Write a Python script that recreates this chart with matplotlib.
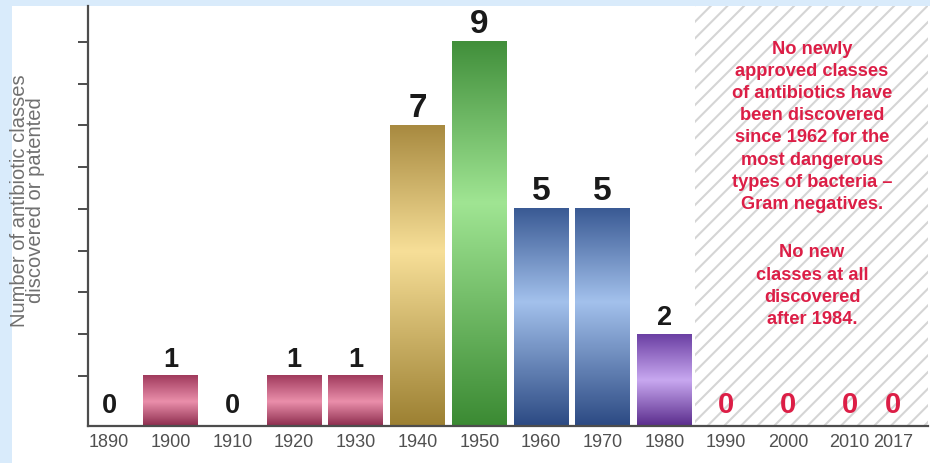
import numpy as np
import matplotlib.pyplot as plt
from matplotlib import font_manager
from matplotlib.colors import LinearSegmentedColormap
from matplotlib.patches import Rectangle

years = [1890, 1900, 1910, 1920, 1930, 1940, 1950, 1960, 1970, 1980, 1990, 2000, 2010, 2017]
classes = [0, 1, 0, 1, 1, 7, 9, 5, 5, 2, 0, 0, 0, 0]
tick_labels = [str(y) for y in years]
bar_styles = ['pink', 'pink', 'pink', 'pink', 'pink', 'gold', 'green',
              'blue', 'blue', 'purple', None, None, None, None]

ylabel = "Number of antibiotic classes\ndiscovered or patented"
note_1 = ("No newly\napproved classes\nof antibiotics have\nbeen discovered\n"
          "since 1962 for the\nmost dangerous\ntypes of bacteria \u2013\nGram negatives.")
note_2 = "No new\nclasses at all\ndiscovered\nafter 1984."
hatch_start = 1985

# bottom -> light band -> top
gradients = {
    'pink':   [(0.0, '#8c2c4d'), (0.48, '#ea8fab'), (1.0, '#a03a5c')],
    'gold':   [(0.0, '#9c8032'), (0.58, '#f7df98'), (1.0, '#a88a40')],
    'green':  [(0.0, '#3b8a33'), (0.58, '#a0e593'), (1.0, '#418f3b')],
    'blue':   [(0.0, '#2c4a83'), (0.57, '#a3c1ec'), (1.0, '#3a5a94')],
    'purple': [(0.0, '#5a2c8c'), (0.5, '#c8a8f0'), (1.0, '#6b3fa3')],
}

installed = {f.name for f in font_manager.fontManager.ttflist}
if 'Liberation Sans Narrow' in installed:
    narrow, nscale = 'Liberation Sans Narrow', 1.0
else:
    narrow, nscale = 'Liberation Sans', 0.82

red = '#dc1e46'
axis_grey = '#4d4d4d'
plt.rcParams['hatch.linewidth'] = 1.5

fig = plt.figure(figsize=(9.3, 4.64), dpi=100, facecolor='#d9ebfb')
fig.patches.append(Rectangle((12 / 930, 0), 1, 457 / 464, transform=fig.transFigure,
                             facecolor='white', edgecolor='none', zorder=-10))
ax = fig.add_axes([88 / 930, 37 / 464, 840 / 930, 420 / 464])

base = -0.2
xmin, xmax = 1886.6, 2022.7

ax.axvspan(hatch_start, xmax, facecolor='none', edgecolor='#d5d5d5', hatch='//',
           lw=0, zorder=0.5)

heights = [v - base if v > 0 else 0 for v in classes]
bars = ax.bar(years, heights, width=8.9, bottom=base, color='none', edgecolor='none', zorder=2)

grad = np.linspace(0, 1, 256).reshape(-1, 1)
for patch, style in zip(bars, bar_styles):
    if style is None or patch.get_height() == 0:
        continue
    cmap = LinearSegmentedColormap.from_list(style, gradients[style])
    x0, w = patch.get_x(), patch.get_width()
    y0, h = patch.get_y(), patch.get_height()
    ax.imshow(grad, extent=[x0, x0 + w, y0, y0 + h], origin='lower', aspect='auto',
              cmap=cmap, interpolation='bicubic', zorder=2, clip_path=patch)

for x, v in zip(years, classes):
    if x >= hatch_start:
        ax.annotate(str(v), (x, v), xytext=(0, 4.3), textcoords='offset points',
                    ha='center', va='baseline', fontsize=21, fontweight='bold',
                    color=red, family=narrow)
    else:
        ax.annotate(str(v), (x, v), xytext=(0, 7 if v else 4.3), textcoords='offset points',
                    ha='center', va='baseline', fontsize=24 if v >= 5 else 19.5,
                    fontweight='bold', color='#1a1a1a', family='Liberation Sans')

ax.text(0.862, 0.92, note_1, transform=ax.transAxes, ha='center', va='top',
        fontsize=16 * nscale, fontweight='bold', color=red, family=narrow, linespacing=1.4)
ax.text(0.862, 0.435, note_2, transform=ax.transAxes, ha='center', va='top',
        fontsize=16 * nscale, fontweight='bold', color=red, family=narrow, linespacing=1.4)

ax.set_xlim(xmin, xmax)
ax.set_ylim(base, 9.86)
ax.set_xticks(years)
ax.set_xticklabels(tick_labels, family=narrow, fontsize=13, color='#505050')
ax.tick_params(axis='x', length=0, pad=5)
ax.set_yticks(range(1, 10))
ax.set_yticklabels([])
ax.tick_params(axis='y', length=7, width=1.4, color=axis_grey)

for side in ['top', 'right']:
    ax.spines[side].set_visible(False)
for side in ['left', 'bottom']:
    ax.spines[side].set_color(axis_grey)
    ax.spines[side].set_linewidth(1.6)

ax.set_ylabel(ylabel, family=narrow, fontsize=14.5, color='#707070', linespacing=0.8)
ax.yaxis.set_label_coords(-0.051, 0.54)

fig.savefig('out.png', dpi=100, facecolor=fig.get_facecolor())
